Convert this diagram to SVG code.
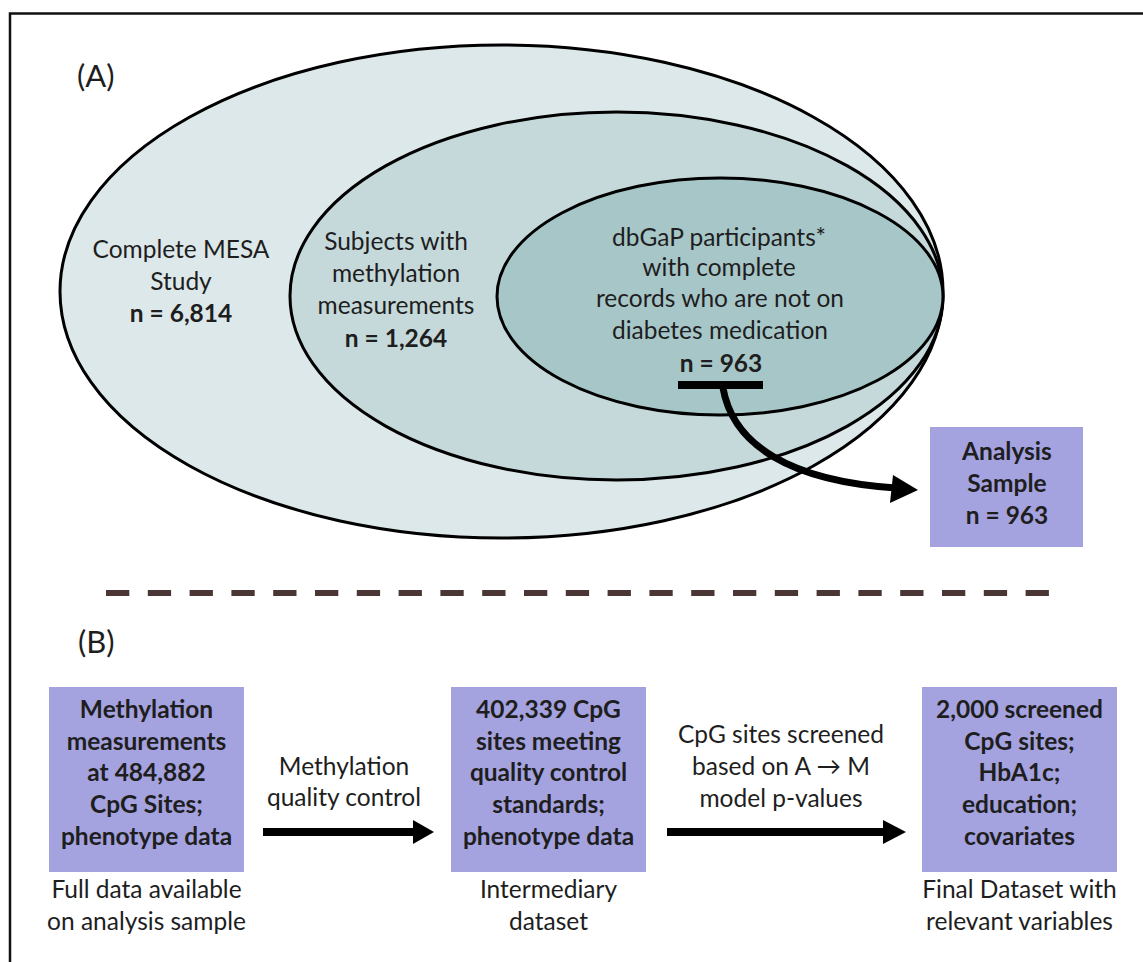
<svg xmlns="http://www.w3.org/2000/svg" width="1143" height="962" viewBox="0 0 1143 962">
<style>
  text { font-family: "Lato", "Liberation Sans", sans-serif; fill: #1e1e1e; text-anchor: middle; }
  .t { font-size: 24.5px; }
  .b { font-size: 24.5px; font-weight: bold; }
  .lab { font-size: 31px; text-anchor: start; }
  .ell { stroke: #000; stroke-width: 3; }
  .box { fill: #a4a2df; }
</style>
<rect x="0" y="0" width="1143" height="962" fill="#fff"/>
<rect x="10" y="13.5" width="1150" height="960" fill="none" stroke="#111" stroke-width="2.5"/>
<text class="lab" x="77" y="87">(A)</text>
<text class="lab" x="78" y="653">(B)</text>

<g id="outer">
  <ellipse class="ell" cx="501.5" cy="291.5" rx="441.5" ry="246.5" fill="#dce8e9"/>
  <text class="t" x="181" y="258">Complete MESA</text>
  <text class="t" x="181" y="290">Study</text>
  <text class="b" x="181" y="322">n = 6,814</text>
</g>
<g id="middle">
  <ellipse class="ell" cx="616.5" cy="296" rx="326.5" ry="184" fill="#c5d9db"/>
  <text class="t" x="396" y="250">Subjects with</text>
  <text class="t" x="396" y="282">methylation</text>
  <text class="t" x="396" y="314">measurements</text>
  <text class="b" x="396" y="347">n = 1,264</text>
</g>
<g id="inner">
  <ellipse class="ell" cx="720" cy="296.5" rx="223" ry="118.5" fill="#a7c6c8"/>
  <text class="t" x="719" y="246">dbGaP participants*</text>
  <text class="t" x="719" y="276">with complete</text>
  <text class="t" x="720" y="307">records who are not on</text>
  <text class="t" x="720" y="339">diabetes medication</text>
  <text class="b" x="721" y="372">n = 963</text>
</g>

<g id="analysis">
  <rect class="box" x="930" y="427" width="153" height="120"/>
  <text class="b" x="1007" y="460">Analysis</text>
  <text class="b" x="1007" y="492">Sample</text>
  <text class="b" x="1007" y="524">n = 963</text>
</g>

<g id="box1">
  <rect class="box" x="49" y="687" width="195" height="185"/>
  <text class="b" x="146.5" y="718">Methylation</text>
  <text class="b" x="146.5" y="750">measurements</text>
  <text class="b" x="146.5" y="781">at 484,882</text>
  <text class="b" x="146.5" y="813">CpG Sites;</text>
  <text class="b" x="146.5" y="845">phenotype data</text>
  <text class="t" x="146.5" y="898">Full data available</text>
  <text class="t" x="146.5" y="930">on analysis sample</text>
</g>
<g id="box2">
  <rect class="box" x="451" y="687" width="195" height="185"/>
  <text class="b" x="548.5" y="718">402,339 CpG</text>
  <text class="b" x="548.5" y="750">sites meeting</text>
  <text class="b" x="548.5" y="781">quality control</text>
  <text class="b" x="548.5" y="813">standards;</text>
  <text class="b" x="548.5" y="845">phenotype data</text>
  <text class="t" x="548.5" y="898">Intermediary</text>
  <text class="t" x="548.5" y="930">dataset</text>
</g>
<g id="box3">
  <rect class="box" x="922" y="687" width="195" height="185"/>
  <text class="b" x="1019.5" y="718">2,000 screened</text>
  <text class="b" x="1019.5" y="750">CpG sites;</text>
  <text class="b" x="1019.5" y="781">HbA1c;</text>
  <text class="b" x="1019.5" y="813">education;</text>
  <text class="b" x="1019.5" y="845">covariates</text>
  <text class="t" x="1019.5" y="898">Final Dataset with</text>
  <text class="t" x="1019.5" y="930">relevant variables</text>
</g>

<g id="connectors">
  <line x1="106" y1="593" x2="1049" y2="593" stroke="#4b3636" stroke-width="6" stroke-dasharray="23.3 18.5"/>
  <rect x="678" y="381" width="85" height="8" fill="#000"/>
  <path d="M723,388 C733,445 790,481 896,488" fill="none" stroke="#000" stroke-width="7"/>
  <polygon points="918,490 893,475 890,503" fill="#000"/>
  <line x1="263" y1="832" x2="415" y2="832" stroke="#000" stroke-width="8"/>
  <polygon points="434,832 413,820 413,844" fill="#000"/>
  <text class="t" x="344" y="775">Methylation</text>
  <text class="t" x="344" y="806">quality control</text>
  <line x1="667" y1="832" x2="885" y2="832" stroke="#000" stroke-width="8"/>
  <polygon points="906,832 883,820 883,844" fill="#000"/>
  <text class="t" x="781" y="743">CpG sites screened</text>
  <text class="t" x="781" y="775">based on A → M</text>
  <text class="t" x="781" y="807">model p-values</text>
</g>
</svg>
